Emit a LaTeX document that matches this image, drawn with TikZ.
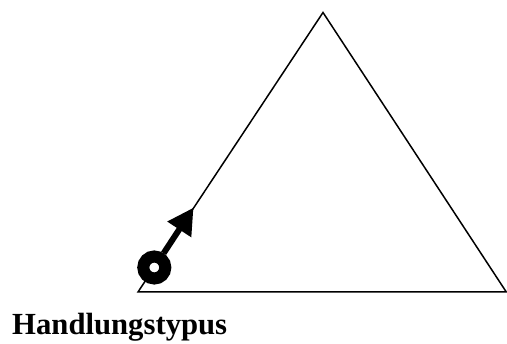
\documentclass[tikz,border=0pt]{standalone}
\usepackage{fontspec}
\setmainfont{Liberation Serif}
\usetikzlibrary{arrows.meta,positioning}

\begin{document}
\begin{tikzpicture}[x=1pt,y=1pt,
  edge/.style={draw=black,line width=1.5pt,line join=miter},
  ring/.style={circle,draw=black,fill=white,line width=12pt,minimum size=22pt,inner sep=0pt},
  move/.style={-{Triangle[length=26pt,width=27pt]},draw=black,line width=6pt},
  label/.style={font=\fontsize{30.7}{36}\selectfont\bfseries,inner sep=0pt,anchor=base west}]
  \useasboundingbox (0,0) rectangle (507,344);

  % corners of the triangle
  \coordinate (left)  at (138,52);
  \coordinate (right) at (506.3,52);
  \coordinate (apex)  at (323,331.5);
  \draw[edge] (left) -- (right) -- (apex) -- cycle;

  % start point and direction
  \node[ring] (start) at (154.3,76.5) {};
  \coordinate (tip) at (193.5,136.3);
  \draw[move] (start) -- (tip);

  \node[label] (name) at (12,9) {Handlungstypus};
\end{tikzpicture}
\end{document}
